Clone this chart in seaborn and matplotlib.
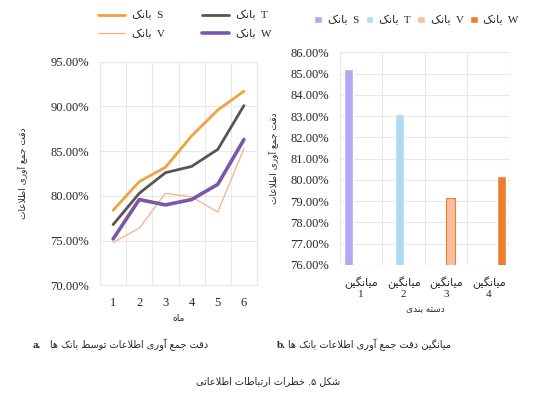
import numpy as np
import pandas as pd
import seaborn as sns
import matplotlib.pyplot as plt
from matplotlib.font_manager import FontProperties
from matplotlib.ticker import PercentFormatter

# داده ها
months = [1, 2, 3, 4, 5, 6]
bank_s = [78.4, 81.6, 83.2, 86.7, 89.6, 91.7]
bank_t = [76.8, 80.3, 82.6, 83.3, 85.2, 90.1]
bank_v = [74.8, 76.4, 80.3, 79.9, 78.2, 85.3]
bank_w = [75.2, 79.6, 79.0, 79.6, 81.3, 86.3]

avg_cats = ['1', '2', '3', '4']
avg_vals = [85.2, 83.08, 79.13, 80.2]
banks = ['S', 'T', 'V', 'W']

# شکل دهی ساده حروف فارسی (matplotlib خودش این کار را نمی کند)
FORMS = {
    'ا': ('\uFE8D', '\uFE8E', None, None),
    'آ': ('\uFE81', '\uFE82', None, None),
    'ب': ('\uFE8F', '\uFE90', '\uFE91', '\uFE92'),
    'ت': ('\uFE95', '\uFE96', '\uFE97', '\uFE98'),
    'ج': ('\uFE9D', '\uFE9E', '\uFE9F', '\uFEA0'),
    'خ': ('\uFEA5', '\uFEA6', '\uFEA7', '\uFEA8'),
    'د': ('\uFEA9', '\uFEAA', None, None),
    'ر': ('\uFEAD', '\uFEAE', None, None),
    'س': ('\uFEB1', '\uFEB2', '\uFEB3', '\uFEB4'),
    'ش': ('\uFEB5', '\uFEB6', '\uFEB7', '\uFEB8'),
    'ط': ('\uFEC1', '\uFEC2', '\uFEC3', '\uFEC4'),
    'ع': ('\uFEC9', '\uFECA', '\uFECB', '\uFECC'),
    'ق': ('\uFED5', '\uFED6', '\uFED7', '\uFED8'),
    'ل': ('\uFEDD', '\uFEDE', '\uFEDF', '\uFEE0'),
    'م': ('\uFEE1', '\uFEE2', '\uFEE3', '\uFEE4'),
    'ن': ('\uFEE5', '\uFEE6', '\uFEE7', '\uFEE8'),
    'ه': ('\uFEE9', '\uFEEA', '\uFEEB', '\uFEEC'),
    'و': ('\uFEED', '\uFEEE', None, None),
    'ک': ('\uFB8E', '\uFB8F', '\uFB90', '\uFB91'),
    'گ': ('\uFB92', '\uFB93', '\uFB94', '\uFB95'),
    'ی': ('\uFBFC', '\uFBFD', '\uFBFE', '\uFBFF'),
    'لا': ('\uFEFB', '\uFEFC', None, None),
}


def fa(s):
    toks = []
    i = 0
    while i < len(s):
        if s[i] == 'ل' and i + 1 < len(s) and s[i + 1] == 'ا':
            toks.append('لا')
            i += 2
        else:
            toks.append(s[i])
            i += 1
    out = []
    for k, t in enumerate(toks):
        if t not in FORMS:
            out.append(t)
            continue
        prev = toks[k - 1] if k > 0 else None
        nxt = toks[k + 1] if k + 1 < len(toks) else None
        jp = prev in FORMS and FORMS[prev][2] is not None
        jn = nxt in FORMS and FORMS[t][2] is not None
        f = FORMS[t]
        if jp and jn:
            out.append(f[3])
        elif jp:
            out.append(f[1])
        elif jn:
            out.append(f[2])
        else:
            out.append(f[0])
    return ''.join(out[::-1])


sns.set_style("white")
plt.rcParams['font.family'] = ['Liberation Serif', 'DejaVu Sans']
FA = ['DejaVu Sans']
mixed = FontProperties(family=['Liberation Serif', 'DejaVu Sans'], size=8)

fig = plt.figure(figsize=(5.36, 3.98), dpi=100)
ax1 = fig.add_axes([0.1866, 0.2827, 0.2929, 0.5623])
ax2 = fig.add_axes([0.6343, 0.3342, 0.3172, 0.5344])

bank_label = fa('بانک')
line_colors = {'S': '#F0A23B', 'T': '#5B5551', 'V': '#F4B183', 'W': '#7A57A8'}
line_widths = {'S': 2.0, 'T': 2.0, 'V': 0.9, 'W': 2.6}

df = pd.DataFrame({'month': months * 4,
                   'acc': bank_s + bank_t + bank_v + bank_w,
                   'bank': np.repeat(banks, len(months))})

for b in banks:
    sns.lineplot(data=df[df['bank'] == b], x='month', y='acc', ax=ax1,
                 color=line_colors[b], linewidth=line_widths[b],
                 label=bank_label + '  ' + b, legend=False)

ax1.set_xlim(0.5, 6.5)
ax1.set_ylim(70, 95)
ax1.set_yticks([70, 75, 80, 85, 90, 95])
ax1.yaxis.set_major_formatter(PercentFormatter(decimals=2))
ax1.set_xticks(months)
ax1.set_xticks(np.arange(0.5, 7, 1), minor=True)
ax1.grid(False)
ax1.grid(True, which='minor', axis='x', color='#E8E8E8', linewidth=0.8)
ax1.grid(True, which='major', axis='y', color='#E8E8E8', linewidth=0.8)
ax1.tick_params(axis='both', which='both', length=0, labelsize=9, pad=8)
ax1.set_xlabel(fa('ماه'), family=FA, fontsize=6.5, labelpad=4)
ax1.set_ylabel(fa('دقت جمع آوری اطلاعات'), family=FA, fontsize=6.5, labelpad=16)
for sp in ax1.spines.values():
    sp.set_color('#E8E8E8')

handles, labels = ax1.get_legend_handles_labels()
order = [0, 2, 1, 3]
fig.legend([handles[i] for i in order], [labels[i] for i in order],
           loc='upper left', bbox_to_anchor=(0.165, 1.0), ncol=2, frameon=False,
           prop=mixed, handlelength=2.4, columnspacing=3.4, labelspacing=0.75,
           handletextpad=0.6)

# نمودار میله ای
bar_df = pd.DataFrame({'cat': avg_cats, 'val': avg_vals, 'bank': banks})
bar_colors = ['#B4A7F5', '#AEDBF0', '#F8BEA0', '#ED7D31']
sns.barplot(data=bar_df, x='cat', y='val', hue='bank', hue_order=banks,
            palette=bar_colors, saturation=1, ax=ax2, dodge=True, width=0.8,
            legend=True)
ax2.patches[2].set_edgecolor('#ED7D31')
ax2.patches[2].set_linewidth(0.8)

ax2.set_ylim(76, 86)
ax2.set_xlim(-0.5, 3.5)
ax2.set_yticks(np.arange(76, 87, 1))
ax2.yaxis.set_major_formatter(PercentFormatter(decimals=2))
ax2.set_xticks(range(4))
ax2.set_xticklabels([fa('میانگین') + '\n' + c for c in avg_cats],
                    fontproperties=mixed)
ax2.set_xticks(np.arange(-0.5, 3.6, 0.5), minor=True)
ax2.grid(False)
ax2.grid(True, which='minor', axis='x', color='#E8E8E8', linewidth=0.8)
ax2.grid(True, which='major', axis='y', color='#E8E8E8', linewidth=0.8)
ax2.set_axisbelow(True)
ax2.tick_params(axis='both', which='both', length=0, pad=8)
ax2.tick_params(axis='y', labelsize=9)
ax2.set_xlabel(fa('دسته بندی'), family=FA, fontsize=6.5, labelpad=4)
ax2.set_ylabel(fa('دقت جمع آوری اطلاعات'), family=FA, fontsize=6.5, labelpad=8)
for sp in ax2.spines.values():
    sp.set_visible(False)

h2, l2 = ax2.get_legend_handles_labels()
ax2.legend(h2, [bank_label + '  ' + b for b in banks], loc='lower center',
           bbox_to_anchor=(0.45, 1.08), ncol=4, frameon=False, prop=mixed,
           handlelength=0.7, handleheight=0.7, handletextpad=0.5,
           columnspacing=0.6)

# زیرنویس ها
fig.text(33 / 536, 1 - 345 / 398, 'a.', fontsize=8, fontweight='bold', va='center')
fig.text(50 / 536, 1 - 345 / 398, fa('دقت جمع آوری اطلاعات توسط بانک ها'),
         family=FA, fontsize=7, va='center')
fig.text(277 / 536, 1 - 345 / 398, 'b.', fontsize=8, fontweight='bold', va='center')
fig.text(288 / 536, 1 - 345 / 398, fa('میانگین دقت جمع آوری اطلاعات بانک ها'),
         family=FA, fontsize=7, va='center')
fig.text(268 / 536, 1 - 381 / 398, fa('شکل ۵. خطرات ارتباطات اطلاعاتی'),
         family=FA, fontsize=7, va='center', ha='center')

fig.savefig('out.png', dpi=100)
